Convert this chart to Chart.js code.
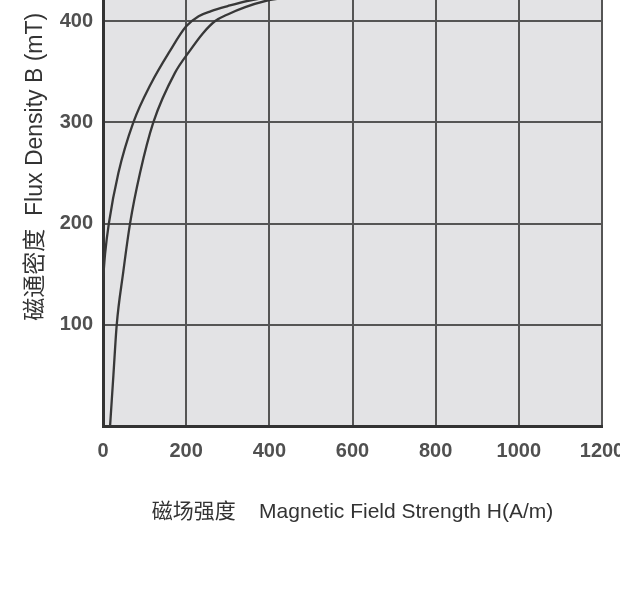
<!DOCTYPE html>
<html><head><meta charset="utf-8">
<script src="https://cdn.jsdelivr.net/npm/chart.js@4.4.1/dist/chart.umd.min.js"></script>
<style>html,body{margin:0;padding:0;background:#fff;} canvas{display:block;}</style>
</head><body>
<canvas id="c" width="620" height="613"></canvas>
<script>
// Upper branch (H in A/m, B in mT)
const upperH = [0, 5, 14, 37, 73, 115, 160, 200, 230, 260, 300, 346, 420];
const upperB = [144, 170, 200, 250, 300, 338, 370, 395, 405, 410, 415, 420, 425];
// Lower branch
const lowerH = [17, 25, 33, 48, 65, 89, 121, 173, 209, 240, 269, 301, 342, 390, 450];
const lowerB = [0, 50, 100, 150, 200, 250, 300, 349, 371, 388, 400, 407, 414, 420, 424];
const xTicks = [0, 200, 400, 600, 800, 1000, 1200];
const yTicks = [0, 100, 200, 300, 400];
const xTitle = '磁场强度    Magnetic Field Strength H(A/m)';
const yTitle = '磁通密度  Flux Density B (mT)  ';

const toPts = (xs, ys) => xs.map((x, i) => ({x, y: ys[i]}));

const bgPlugin = {
  id: 'bg',
  beforeDraw(chart) {
    const {ctx, chartArea: a} = chart;
    ctx.save();
    ctx.fillStyle = '#e3e3e5';
    ctx.fillRect(a.left, a.top, a.right - a.left, a.bottom - a.top);
    ctx.restore();
  }
};

const tickFont = {family: "'Liberation Sans', Arial, sans-serif", size: 20, weight: 'bold'};
const titleFamily = "'Liberation Sans', Arial, 'Noto Sans CJK SC', sans-serif";

new Chart(document.getElementById('c'), {
  type: 'scatter',
  data: {
    datasets: [
      {data: toPts(upperH, upperB), showLine: true, borderColor: '#383838', borderWidth: 2.3, pointRadius: 0, cubicInterpolationMode: 'monotone', fill: false},
      {data: toPts(lowerH, lowerB), showLine: true, borderColor: '#383838', borderWidth: 2.3, pointRadius: 0, cubicInterpolationMode: 'monotone', fill: false}
    ]
  },
  options: {
    responsive: false,
    animation: false,
    devicePixelRatio: 1,
    layout: {padding: {left: 0, right: 0, top: 0, bottom: 87}},
    plugins: {legend: {display: false}, tooltip: {enabled: false}},
    scales: {
      x: {
        type: 'linear', min: 0, max: 1200,
        afterBuildTicks: s => { s.ticks = xTicks.map(v => ({value: v})); },
        afterFit: s => { s.height = 100; s.paddingRight = 18; },
        ticks: {font: tickFont, color: '#505050', padding: 13, callback: v => String(v)},
        grid: {color: '#555', lineWidth: 2, drawTicks: false},
        border: {display: true, color: '#333', width: 3},
        title: {display: true, text: xTitle, color: '#333', font: {family: titleFamily, size: 21}, padding: {top: 0, bottom: 1}}
      },
      y: {
        type: 'linear', min: 0, max: 421,
        afterBuildTicks: s => { s.ticks = yTicks.map(v => ({value: v})); },
        afterFit: s => { s.width = 103; s.paddingTop = 0; },
        ticks: {font: tickFont, color: '#505050', padding: 10, callback: v => v === 0 ? '' : String(v)},
        grid: {color: '#555', lineWidth: 2, drawTicks: false},
        border: {display: true, color: '#333', width: 3},
        title: {display: true, text: yTitle, align: 'end', color: '#333', font: {family: titleFamily, size: 23}, padding: {top: 22, bottom: 0}}
      }
    }
  },
  plugins: [bgPlugin]
});
</script>
</body></html>
